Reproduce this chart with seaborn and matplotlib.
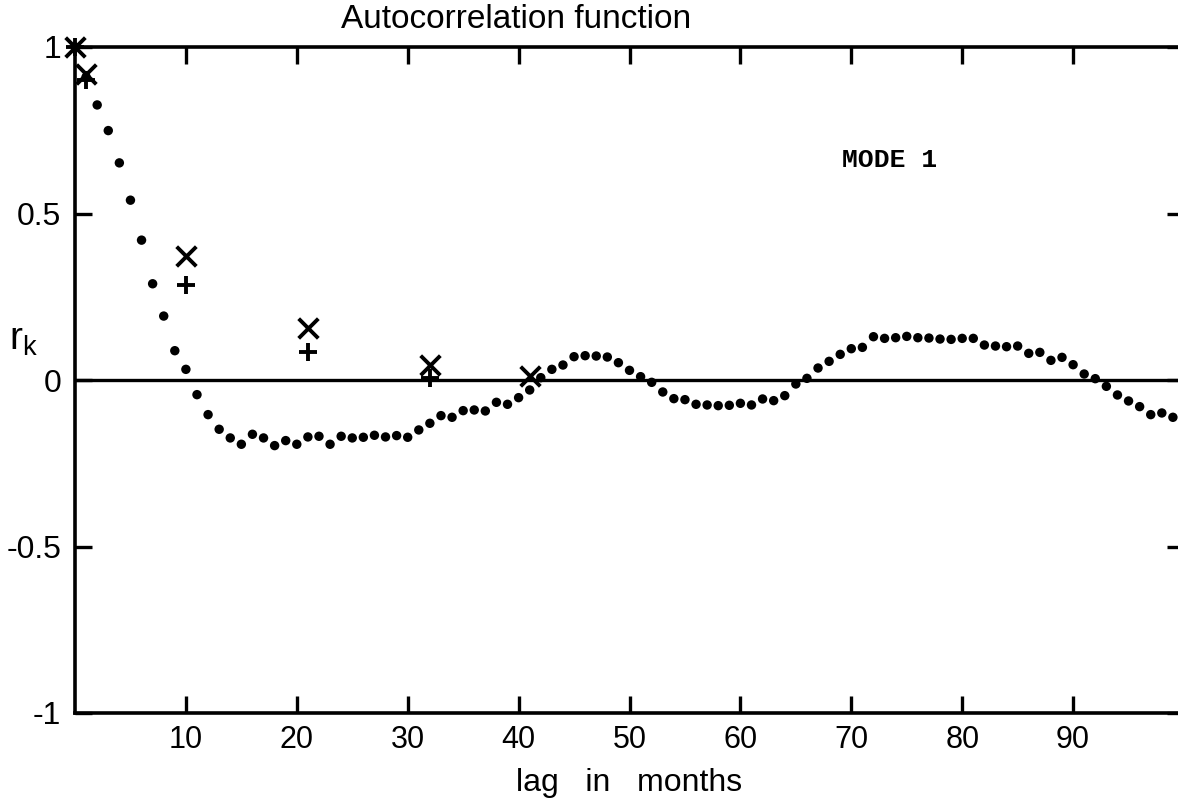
import matplotlib
matplotlib.use("Agg")
import matplotlib.pyplot as plt
import seaborn as sns
import pandas as pd

# Sample autocorrelation, one value per monthly lag
lags = list(range(0, 100))
acf = [
    1.0, 0.91, 0.826, 0.749, 0.652, 0.540, 0.420, 0.289, 0.192, 0.088,
    0.032, -0.044, -0.104, -0.148, -0.174, -0.193, -0.163, -0.174, -0.197, -0.182,
    -0.193, -0.171, -0.169, -0.193, -0.169, -0.174, -0.172, -0.166, -0.171, -0.167,
    -0.172, -0.150, -0.130, -0.107, -0.112, -0.092, -0.090, -0.093, -0.067, -0.073,
    -0.053, -0.030, 0.007, 0.032, 0.045, 0.070, 0.073, 0.072, 0.069, 0.052,
    0.029, 0.010, -0.007, -0.036, -0.056, -0.059, -0.073, -0.075, -0.077, -0.076,
    -0.070, -0.075, -0.057, -0.062, -0.047, -0.012, 0.005, 0.036, 0.056, 0.077,
    0.094, 0.098, 0.130, 0.125, 0.127, 0.131, 0.127, 0.126, 0.123, 0.122,
    0.125, 0.125, 0.105, 0.102, 0.100, 0.102, 0.080, 0.083, 0.059, 0.068,
    0.046, 0.018, 0.004, -0.019, -0.045, -0.063, -0.080, -0.104, -0.099, -0.112,
]

# Theoretical values at selected lags
cross_lags = [0, 1, 10, 21, 32, 41]
cross_vals = [1.0, 0.92, 0.372, 0.155, 0.045, 0.012]
plus_lags = [0, 1, 10, 21, 32]
plus_vals = [1.0, 0.90, 0.285, 0.083, 0.007]

x_ticks = [10, 20, 30, 40, 50, 60, 70, 80, 90]
y_ticks = [-1, -0.5, 0, 0.5, 1]
y_tick_labels = ["-1", "-0.5", "0", "0.5", "1"]

sns.set_style("ticks")
plt.rcParams["font.family"] = ["Liberation Sans", "DejaVu Sans"]
plt.rcParams["text.color"] = "black"

fig = plt.figure(figsize=(11.78, 8.0), dpi=100)
ax = fig.add_axes([75 / 1178, 87 / 800, 1109 / 1178, 666 / 800])

dots = pd.DataFrame({"lag": lags, "r": acf})
crosses = pd.DataFrame({"lag": cross_lags, "r": cross_vals})
pluses = pd.DataFrame({"lag": plus_lags, "r": plus_vals})

ax.axhline(0, color="black", lw=2.4, zorder=1)

sns.scatterplot(data=dots, x="lag", y="r", ax=ax, color="black", s=46,
                marker="o", edgecolor="none", zorder=3, clip_on=False)
sns.scatterplot(data=crosses, x="lag", y="r", ax=ax, color="black", s=200,
                marker="x", linewidth=2.8, zorder=4, clip_on=False)
sns.scatterplot(data=pluses, x="lag", y="r", ax=ax, color="black", s=180,
                marker="+", linewidth=2.8, zorder=4, clip_on=False)

ax.set_xlim(0, 100)
ax.set_ylim(-1, 1)

for side in ["left", "bottom", "top"]:
    ax.spines[side].set_linewidth(2.6)
    ax.spines[side].set_color("black")
ax.spines["right"].set_visible(False)

ax.set_xticks(x_ticks)
ax.set_xticklabels([str(t) for t in x_ticks])
ax.set_yticks(y_ticks)
ax.set_yticklabels(y_tick_labels)

ax.tick_params(axis="x", which="both", direction="in", length=12, width=2.4,
               top=True, bottom=True, labelsize=22, pad=9, colors="black")
ax.tick_params(axis="y", which="both", direction="in", length=12, width=2.4,
               left=True, right=True, labelsize=23, pad=10, colors="black")

ax.set_xlabel("lag   in   months", fontsize=23, labelpad=9, color="black")
ax.set_ylabel("")
ax.text(-0.046, 0.56, r"$\mathregular{r_k}$", transform=ax.transAxes,
        fontsize=28, ha="center", va="center")

fig.text(516 / 1178, 1 - 20 / 800, "Autocorrelation function",
         fontsize=24, ha="center", va="center", color="black")

ax.text(73.5, 0.66, "MODE 1", fontsize=19, family="Liberation Mono",
        fontweight="bold", ha="center", va="center")

fig.savefig("out.png", dpi=100, facecolor="white")
